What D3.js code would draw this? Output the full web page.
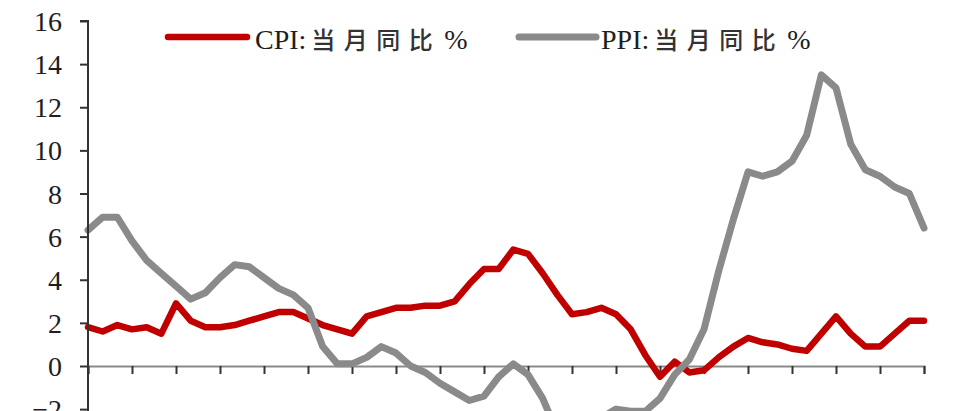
<!DOCTYPE html>
<html>
<head>
<meta charset="utf-8">
<script src="https://cdn.jsdelivr.net/npm/d3@7"></script>
<style>
  html, body { margin: 0; padding: 0; background: #fff; overflow: hidden; }
  svg { display: block; }
</style>
</head>
<body>
<svg id="chart" width="966" height="411"></svg>
<script>
// Months (Aug 2017 – May 2022)
const months = [
  "2017-08","2017-09","2017-10","2017-11","2017-12",
  "2018-01","2018-02","2018-03","2018-04","2018-05","2018-06","2018-07","2018-08","2018-09","2018-10","2018-11","2018-12",
  "2019-01","2019-02","2019-03","2019-04","2019-05","2019-06","2019-07","2019-08","2019-09","2019-10","2019-11","2019-12",
  "2020-01","2020-02","2020-03","2020-04","2020-05","2020-06","2020-07","2020-08","2020-09","2020-10","2020-11","2020-12",
  "2021-01","2021-02","2021-03","2021-04","2021-05","2021-06","2021-07","2021-08","2021-09","2021-10","2021-11","2021-12",
  "2022-01","2022-02","2022-03","2022-04","2022-05"
];
// CPI: 当月同比 %
const cpi = [
  1.8,1.6,1.9,1.7,1.8,
  1.5,2.9,2.1,1.8,1.8,1.9,2.1,2.3,2.5,2.5,2.2,1.9,
  1.7,1.5,2.3,2.5,2.7,2.7,2.8,2.8,3.0,3.8,4.5,4.5,
  5.4,5.2,4.3,3.3,2.4,2.5,2.7,2.4,1.7,0.5,-0.5,0.2,
  -0.3,-0.2,0.4,0.9,1.3,1.1,1.0,0.8,0.7,1.5,2.3,1.5,
  0.9,0.9,1.5,2.1,2.1
];
// PPI: 当月同比 %
const ppi = [
  6.3,6.9,6.9,5.8,4.9,
  4.3,3.7,3.1,3.4,4.1,4.7,4.6,4.1,3.6,3.3,2.7,0.9,
  0.1,0.1,0.4,0.9,0.6,0.0,-0.3,-0.8,-1.2,-1.6,-1.4,-0.5,
  0.1,-0.4,-1.5,-3.1,-3.7,-3.0,-2.4,-2.0,-2.1,-2.1,-1.5,-0.4,
  0.3,1.7,4.4,6.8,9.0,8.8,9.0,9.5,10.7,13.5,12.9,10.3,
  9.1,8.8,8.3,8.0,6.4
];
const yTicks = [-4,-2,0,2,4,6,8,10,12,14,16];
const seriesNames = ["CPI:", "PPI:"];
const legendSuffix = "当月同比";

const svg = d3.select("#chart");
const left = 88, right = 924;
const y0px = 366, y16px = 21;

const x = d3.scalePoint().domain(months).range([left, right]);
const y = d3.scaleLinear().domain([0, 16]).range([y0px, y16px]);

// x axis at zero (drawn first, behind lines)
const xTickMonths = months.filter((m, i) => i % 3 === 0);
const xAxis = d3.axisBottom(x).tickValues(xTickMonths).tickSize(8).tickFormat("");
const gx = svg.append("g").attr("transform", `translate(0,${y(0)})`).call(xAxis);
gx.select(".domain").attr("stroke", "#8a8a8a").attr("stroke-width", 2.2);
gx.selectAll(".tick line").attr("stroke", "#333").attr("stroke-width", 2);

// lines
const line = d3.line().x((d, i) => x(months[i])).y(d => y(d)).curve(d3.curveLinear);
svg.append("path").datum(cpi).attr("d", line)
  .attr("fill", "none").attr("stroke", "#c00000").attr("stroke-width", 6.5)
  .attr("stroke-linejoin", "round").attr("stroke-linecap", "round");
svg.append("path").datum(ppi).attr("d", line)
  .attr("fill", "none").attr("stroke", "#8a8a8a").attr("stroke-width", 7)
  .attr("stroke-linejoin", "round").attr("stroke-linecap", "round");

// y axis
const yAxis = d3.axisLeft(y).tickValues(yTicks).tickSize(8).tickPadding(18).tickFormat(d3.format("d"));
const gy = svg.append("g").attr("transform", `translate(${left},0)`).call(yAxis);
gy.select(".domain").attr("stroke", "#333").attr("stroke-width", 2).attr("d", `M-8,${y(16)}H0V${y(-4)}`);
gy.selectAll(".tick line").attr("stroke", "#333").attr("stroke-width", 2);
gy.selectAll(".tick text")
  .attr("font-family", "'Liberation Serif', 'Times New Roman', serif")
  .attr("font-size", 28).attr("fill", "#1e1e1e").attr("dy", "0.34em");

// legend
const legendItems = [
  { name: seriesNames[0], color: "#c00000", w: 6.5, x1: 168, x2: 247, tx: 255 },
  { name: seriesNames[1], color: "#8a8a8a", w: 7, x1: 519, x2: 596, tx: 601 }
];
const lg = svg.append("g");
legendItems.forEach(it => {
  lg.append("line").attr("x1", it.x1).attr("x2", it.x2).attr("y1", 37).attr("y2", 37)
    .attr("stroke", it.color).attr("stroke-width", it.w).attr("stroke-linecap", "round");
  const t = lg.append("text").attr("x", it.tx).attr("y", 49).attr("fill", "#1e1e1e")
    .attr("font-family", "'Liberation Serif', 'Times New Roman', serif").attr("font-size", 28);
  t.append("tspan").text(it.name);
  t.append("tspan").attr("dx", 5)
    .attr("font-family", "'Noto Sans CJK SC', sans-serif").attr("font-size", 24)
    .attr("font-weight", 500)
    .attr("letter-spacing", 8.5).attr("fill", "#333").text(legendSuffix);
  t.append("tspan").attr("dx", 3).text("%");
});
</script>
</body>
</html>
